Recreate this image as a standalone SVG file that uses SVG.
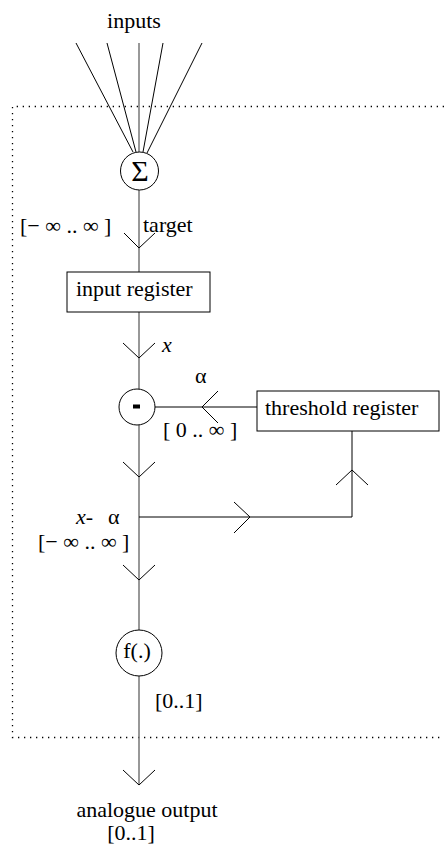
<svg xmlns="http://www.w3.org/2000/svg" width="444" height="849" viewBox="0 0 444 849">
<style>
.t{font-family:'Liberation Serif', 'Times New Roman', serif;font-size:22px;fill:#000}
.it{font-style:italic}
.ln{stroke:#000;stroke-width:1;fill:none}
.main{stroke:#777;stroke-width:1.5;fill:none}
.node{stroke:#000;stroke-width:1;fill:#fff}
.dot{stroke:#000;stroke-width:1.3;stroke-dasharray:1.3 4.7;fill:none}
</style>
<rect width="444" height="849" fill="#fff"/>
<path class="dot" d="M444 106.5 H12.5 V737.5 H444"/>
<g id="connectors">
  <path class="ln" d="M76 43 L133 152 M107 43 L136 152 M163 43 L143 152 M202 43 L147 153"/>
  <path class="main" d="M139 43 V152"/>
  <path class="main" d="M139 189 V272 M139 312 V389 M139 425 V630 M139 676 V785"/>
  <path class="ln" d="M124 233 L139 248 L155 233"/>
  <path class="ln" d="M123 343 L139 358 L155 343"/>
  <path class="ln" d="M155 407 H257 M218 391 L202 407 L218 423"/>
  <path class="ln" d="M352 431 V517 H139 M336 485 L352 470 L368 485 M234 502 L250 517 L234 533"/>
  <path class="ln" d="M123 462 L139 477 L155 462 M123 565 L139 580 L155 565"/>
  <path class="ln" d="M123 770 L139 785 L155 770"/>
</g>
<text class="t" x="134" y="28" text-anchor="middle">inputs</text>
<g id="sum"><circle class="node" cx="139.5" cy="171" r="19"/><text class="t" x="140" y="180.5" text-anchor="middle" style="font-size:30px">Σ</text></g>
<text class="t" x="20" y="233">[− ∞ .. ∞ ]</text>
<text class="t" x="143" y="232">target</text>
<g id="input-register"><rect class="node" x="67" y="272" width="143" height="40"/><text class="t" x="76" y="296">input register</text></g>
<text class="t it" x="162" y="352">x</text>
<g id="minus"><circle class="node" cx="137" cy="407" r="18"/><rect x="133" y="404.5" width="7" height="4" fill="#000"/></g>
<text class="t" x="195" y="383">α</text>
<text class="t" x="163" y="437">[ 0 .. ∞ ]</text>
<g id="threshold-register"><rect class="node" x="257" y="391" width="182" height="40"/><text class="t" x="265" y="415">threshold register</text></g>
<text class="t it" x="76" y="524">x-</text>
<text class="t" x="108" y="524">α</text>
<text class="t" x="38" y="549">[− ∞ .. ∞ ]</text>
<g id="f"><circle class="node" cx="139" cy="653" r="23"/><text class="t" x="137" y="658" text-anchor="middle">f(.)</text></g>
<text class="t" x="155" y="708">[0..1]</text>
<text class="t" x="147" y="817" text-anchor="middle">analogue output</text>
<text class="t" x="131" y="840" text-anchor="middle">[0..1]</text>
</svg>
